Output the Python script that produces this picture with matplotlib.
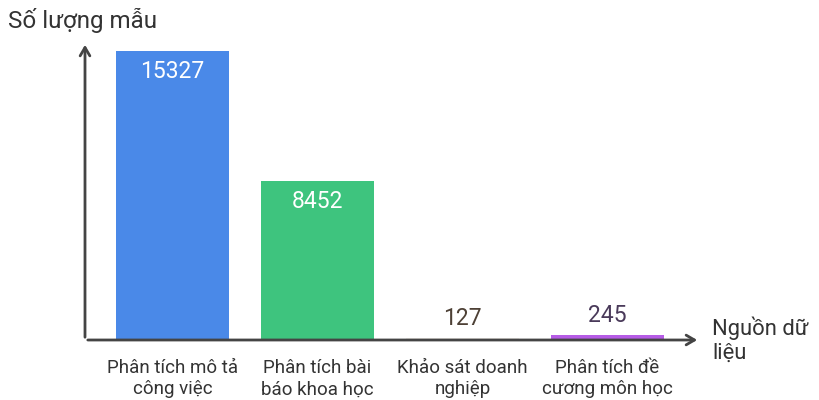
import matplotlib
matplotlib.use("Agg")
import matplotlib.pyplot as plt

categories = ["Phân tích mô tả\ncông việc", "Phân tích bài\nbáo khoa học",
              "Khảo sát doanh\nnghiệp", "Phân tích đề\ncương môn học"]
values = [15327, 8452, 127, 245]
bar_colors = ["#4A89E8", "#3EC47E", "#F7F3EE", "#B65CE6"]
label_colors = ["white", "white", "#4D4035", "#4A3A5A"]
inside = [True, True, False, False]

plt.rcParams['font.family'] = ['Roboto', 'DejaVu Sans']

fig = plt.figure(figsize=(8.19, 4.0), dpi=100)
ax = fig.add_axes([85/819, 60/400, (700-85)/819, (340-42)/400])

x = list(range(len(categories)))
ax.bar(x, values, width=0.78, color=bar_colors, zorder=1)
ax.set_xlim(-0.603, 3.637)
ax.set_ylim(0, 15327 * 298 / 289)

for xi, v, c, ins in zip(x, values, label_colors, inside):
    if ins:
        ax.annotate(str(v), (xi, v), xytext=(0, -15), textcoords="offset points",
                    ha="center", va="center", color=c, fontsize=16.5)
    else:
        ax.annotate(str(v), (xi, v), xytext=(0, 14), textcoords="offset points",
                    ha="center", va="center", color=c, fontsize=16.5)

for s in ax.spines.values():
    s.set_visible(False)
ax.set_yticks([])
ax.set_xticks(x)
ax.set_xticklabels(categories, fontsize=13.5, color="#333333", linespacing=1.2)
ax.tick_params(axis="x", length=0, pad=14)

arrow_kw = dict(arrowstyle="->,head_length=0.6,head_width=0.35", color="#444444", lw=2)
ax.annotate("", xy=(1.0, 0), xytext=(0, 0), xycoords="axes fraction",
            textcoords="axes fraction", arrowprops=arrow_kw, zorder=3)
ax.annotate("", xy=(0, 1.0), xytext=(0, 0), xycoords="axes fraction",
            textcoords="axes fraction", arrowprops=arrow_kw, zorder=3)

fig.text(8/819, 1 - 20/400, "Số lượng mẫu", fontsize=17.4, color="#333333",
         ha="left", va="center")
fig.text(712/819, 1 - 340/400, "Nguồn dữ\nliệu", fontsize=15.8, color="#333333",
         ha="left", va="center", linespacing=1.2)

fig.savefig("out.png", dpi=100)
